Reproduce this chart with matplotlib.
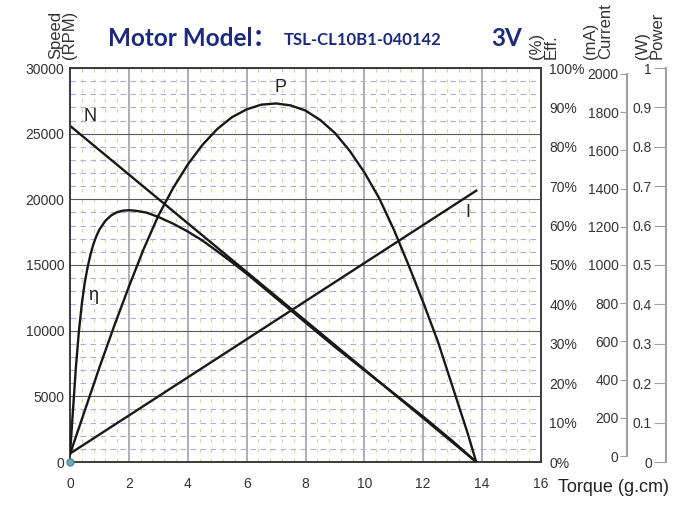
import matplotlib.pyplot as plt
from matplotlib.ticker import MultipleLocator, FuncFormatter

plt.rcParams['font.family'] = ['Liberation Sans', 'DejaVu Sans']

# speed line N (rpm) vs torque (g.cm)
torque_n = [0, 13.8]
speed = [25600, 0]

# current line I (mA)
torque_i = [0, 13.8]
current = [13, 1389]

# output power P (W)
torque_p = [0, 0.5, 1, 1.5, 2, 2.5, 3, 3.5, 4, 4.5, 5, 5.5, 6, 6.5, 7, 7.5,
            8, 8.5, 9, 9.5, 10, 10.5, 11, 11.5, 12, 12.5, 13, 13.5, 13.8]
power = [0.02, 0.13, 0.24, 0.345, 0.445, 0.54, 0.625, 0.695, 0.755, 0.805,
         0.845, 0.875, 0.895, 0.907, 0.910, 0.905, 0.892, 0.868, 0.835,
         0.79, 0.735, 0.67, 0.59, 0.5, 0.405, 0.305, 0.19, 0.075, 0]

# efficiency (%)
torque_e = [0, 0.1, 0.2, 0.3, 0.4, 0.5, 0.6, 0.7, 0.8, 0.9, 1.0, 1.2, 1.4,
            1.6, 1.8, 2.0, 2.2, 2.6, 3.0, 3.5, 4.0, 4.5, 5.0, 5.5, 6.0, 6.5,
            7, 7.5, 8, 9, 10, 11, 12, 13, 13.8]
eff = [2, 13, 24, 33, 40, 45.5, 49.5, 52.8, 55.4, 57.4, 59, 61.2, 62.6,
       63.4, 63.8, 63.9, 63.8, 63.3, 62.2, 60.5, 58.5, 56.2, 53.5, 50.7,
       47.8, 44.7, 41.6, 38.5, 35.4, 29.2, 23.3, 17.4, 11.5, 5.3, 0]

txt = '#333333'
navy = '#1b2a80'
curve = '#1a1716'

fig = plt.figure(figsize=(6.84, 5.12), dpi=100)
ax = fig.add_axes([70 / 684, 1 - 462 / 512, 471 / 684, 394 / 512])
ax.set_xlim(0, 16)
ax.set_ylim(0, 30000)

# grid: major solid, minor dashed
ax.xaxis.set_major_locator(MultipleLocator(2))
ax.xaxis.set_minor_locator(MultipleLocator(0.4))
ax.yaxis.set_major_locator(MultipleLocator(5000))
ax.yaxis.set_minor_locator(MultipleLocator(1000))
ax.xaxis.grid(True, which='major', color='#a8a8a8', lw=1.3)
ax.yaxis.grid(True, which='major', color='#5a5a5a', lw=0.8)
ax.xaxis.grid(True, which='minor', color='#cdd98a', lw=0.8, linestyle=(0, (3, 6)))
ax.yaxis.grid(True, which='minor', color='#aab1d2', lw=0.8, linestyle=(0, (5, 4)))
ax.set_axisbelow(True)
ax.tick_params(which='both', length=0, labelsize=10, labelcolor=txt)
ax.tick_params(axis='x', pad=11)
ax.tick_params(axis='y', pad=4)
for s in ax.spines.values():
    s.set_color('#3a3a3a')
    s.set_linewidth(1.4)

ax.plot(torque_n, speed, color=curve, lw=1.7)
ax.plot(0, 0, 'o', ms=5, mfc='#6bb39a', mec='#5a7fb5', clip_on=False, zorder=10)

# efficiency axis (right frame)
ax_eff = ax.twinx()
ax_eff.set_ylim(0, 100)
ax_eff.yaxis.set_major_locator(MultipleLocator(10))
ax_eff.yaxis.set_major_formatter(FuncFormatter(lambda v, p: '%d%%' % v))
ax_eff.tick_params(length=0, labelsize=10, labelcolor=txt, pad=6)
for s in ax_eff.spines.values():
    s.set_visible(False)
ax_eff.plot(torque_e, eff, color=curve, lw=1.7)

# current axis
ax_cur = ax.twinx()
ax_cur.set_ylim(-31, 2031)
ax_cur.yaxis.tick_left()
ax_cur.yaxis.set_major_locator(MultipleLocator(200))
for s in ax_cur.spines.values():
    s.set_visible(False)
ax_cur.spines['left'].set_visible(True)
ax_cur.spines['left'].set_position(('axes', (627 - 70) / 471))
ax_cur.spines['left'].set_bounds(0, 2000)
ax_cur.spines['left'].set_color('#a0a0a0')
ax_cur.spines['left'].set_linewidth(1.5)
ax_cur.tick_params(direction='out', length=5, color='#a0a0a0', labelsize=10,
                   labelcolor=txt, pad=1)
ax_cur.plot(torque_i, current, color=curve, lw=1.7)

# power axis
ax_pow = ax.twinx()
ax_pow.set_ylim(0, 1)
ax_pow.yaxis.tick_left()
ax_pow.yaxis.set_major_locator(MultipleLocator(0.1))
ax_pow.yaxis.set_major_formatter(FuncFormatter(lambda v, p: '%g' % round(v, 1)))
for s in ax_pow.spines.values():
    s.set_visible(False)
ax_pow.spines['left'].set_visible(True)
ax_pow.spines['left'].set_position(('axes', (666 - 70) / 471))
ax_pow.spines['left'].set_color('#a0a0a0')
ax_pow.spines['left'].set_linewidth(1.5)
ax_pow.tick_params(direction='out', length=9, color='#a0a0a0', labelsize=10,
                   labelcolor=txt, pad=1)
ax_pow.plot(torque_p, power, color=curve, lw=1.7)

# curve labels
ax.text(0.68, 26300, 'N', fontsize=13, color='#222222', ha='center', va='center')
ax.text(7.15, 28500, 'P', fontsize=13, color='#222222', ha='center', va='center')
ax.text(13.5, 19000, 'I', fontsize=13, color='#222222', ha='center', va='center')
ax.text(0.78, 12700, 'η', fontsize=13, color='#222222', ha='center', va='center')

# header
fig.text(108 / 684, 1 - 39 / 512, 'Motor Model：', fontsize=17.5, fontweight='bold',
         color=navy, family=['Lato', 'Noto Sans CJK SC'], va='center')
fig.text(284 / 684, 1 - 40 / 512, 'TSL-CL10B1-040142', fontsize=12,
         fontweight='bold', color=navy, family=['Lato'], va='center')
fig.text(491 / 684, 1 - 39 / 512, '3V', fontsize=17.5, fontweight='bold',
         color=navy, family=['Lato'], va='center')

for xc, s in [(62.5, 'Speed\n(RPM)'), (543.5, '(%)\nEff.'),
              (598, '(mA)\nCurrent'), (650, '(W)\nPower')]:
    fig.text(xc / 684, 1 - 59 / 512, s, rotation=90, fontsize=12, color=txt,
             ha='center', va='bottom', multialignment='left', linespacing=0.95)

fig.text(558 / 684, 1 - 487 / 512, 'Torque (g.cm)', fontsize=13, color='#222222',
         ha='left', va='center')

fig.savefig('out.png', dpi=100)
